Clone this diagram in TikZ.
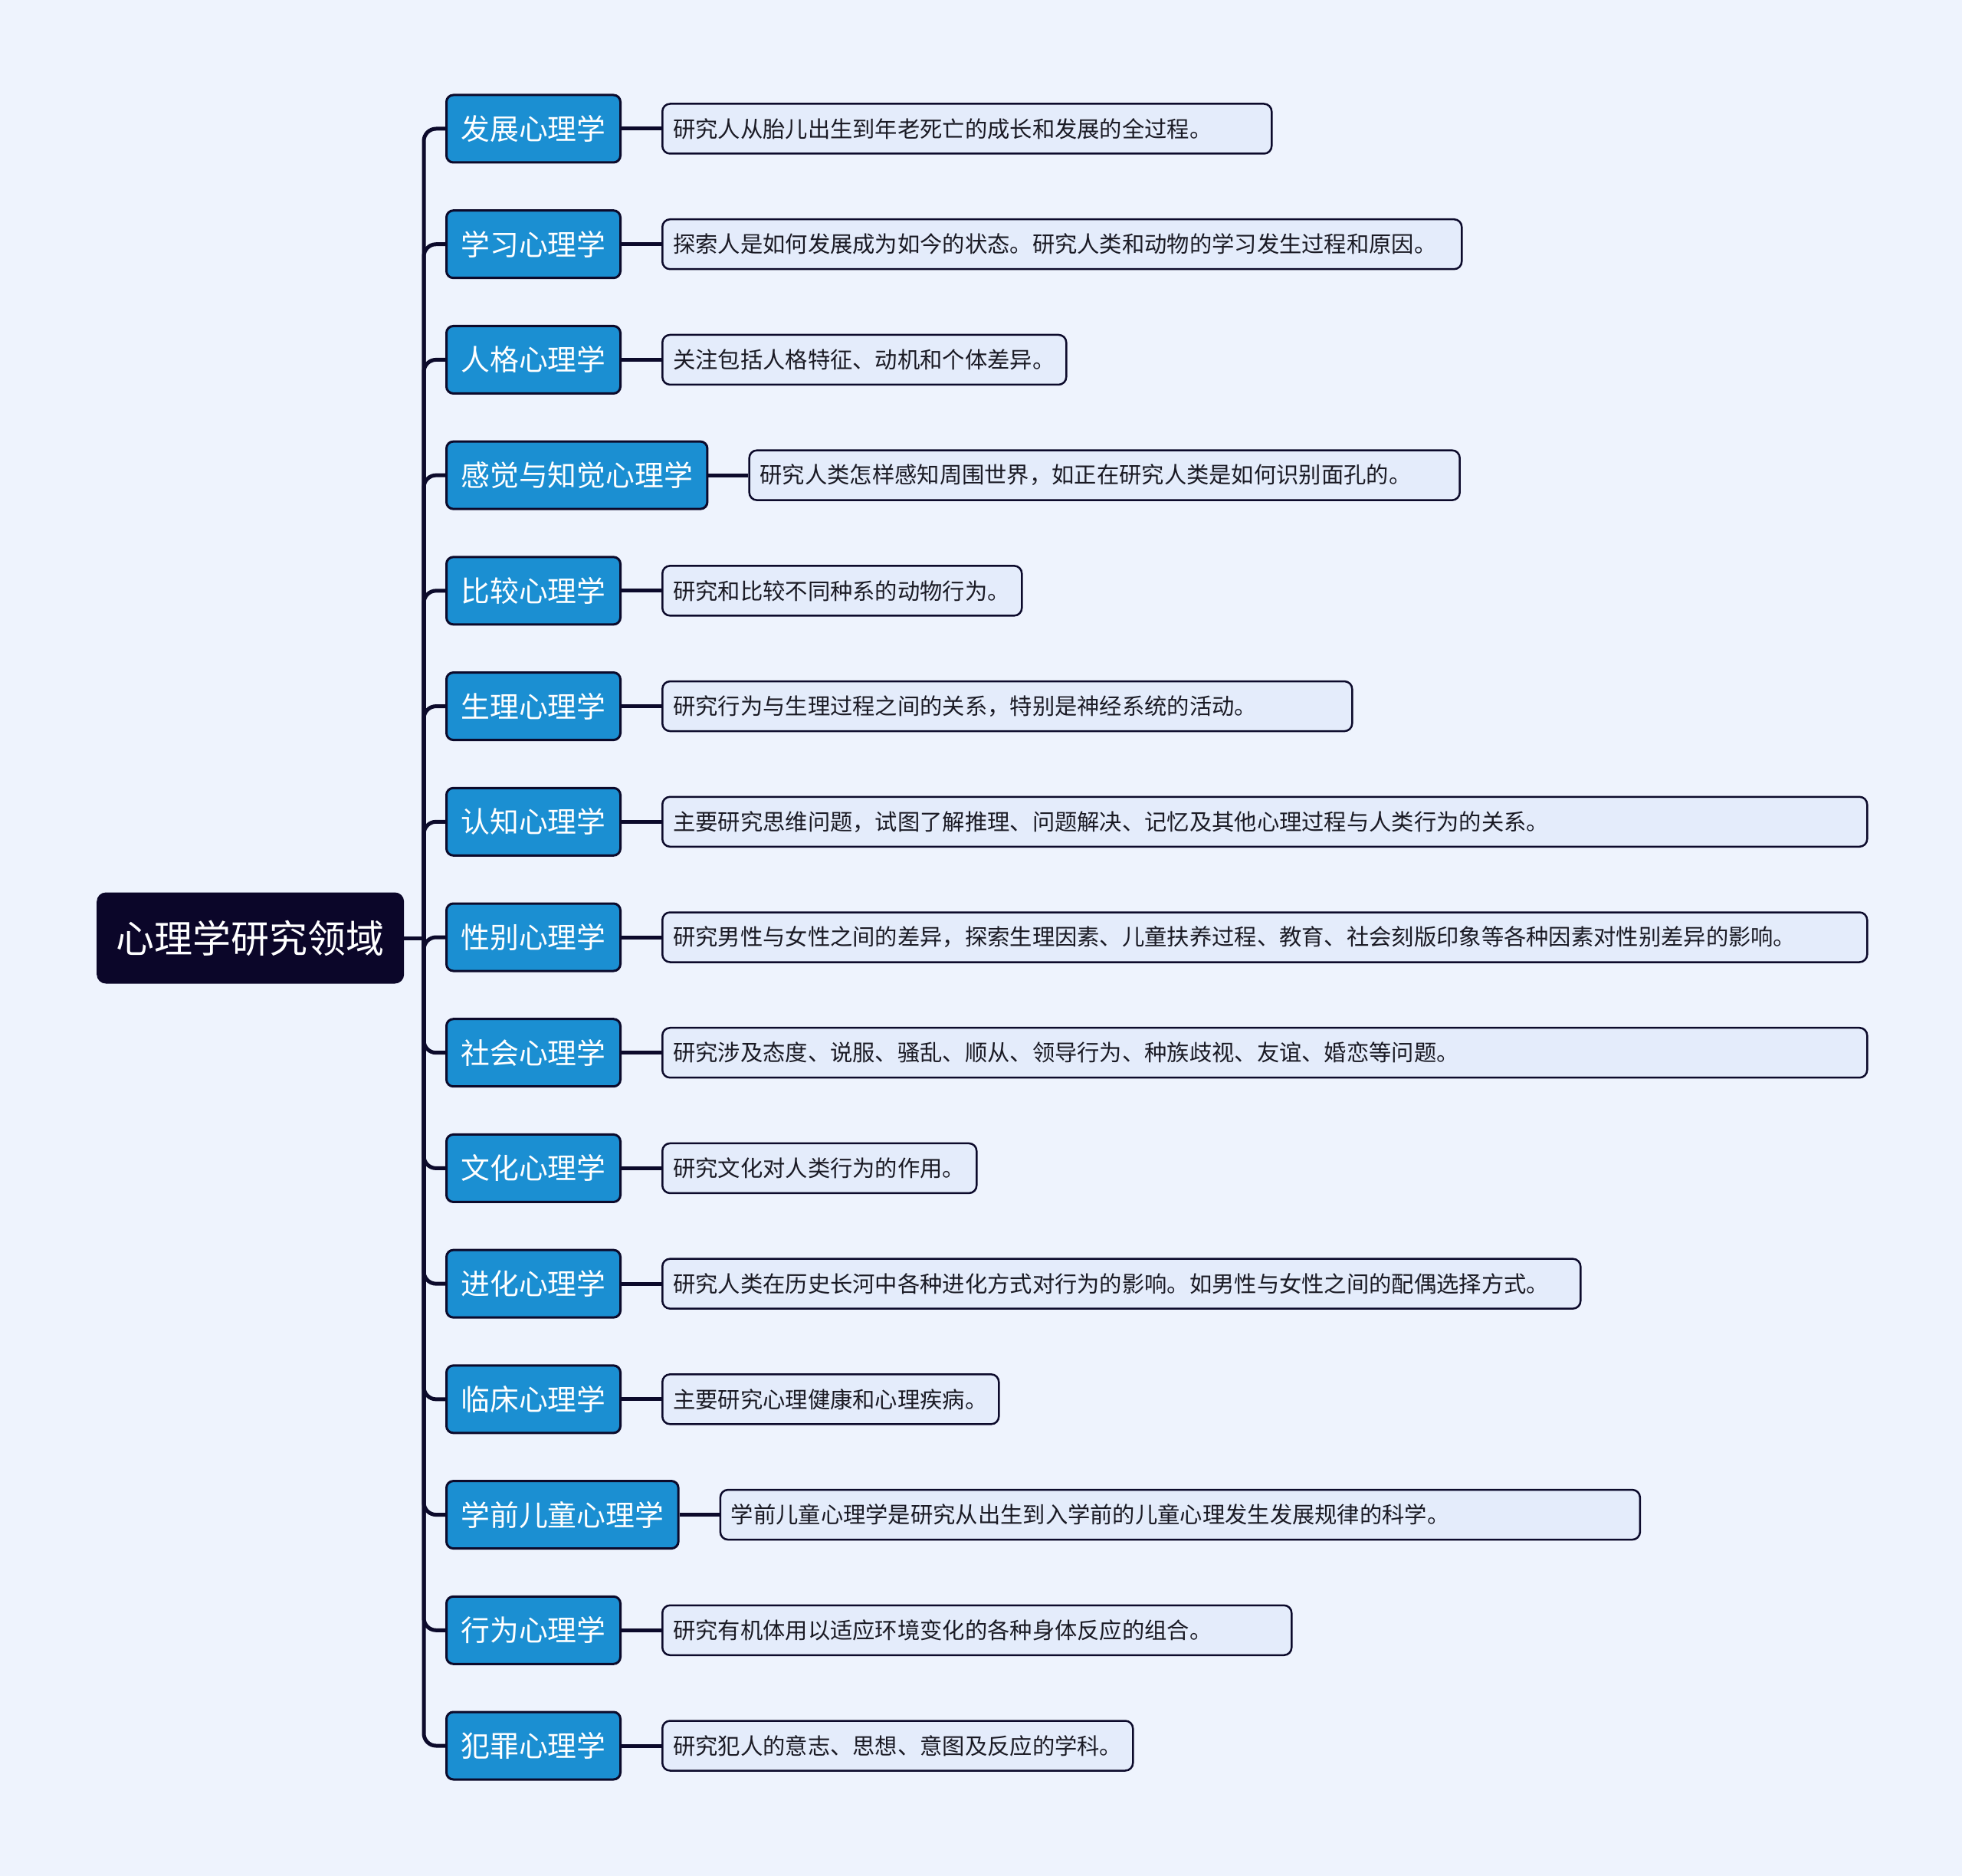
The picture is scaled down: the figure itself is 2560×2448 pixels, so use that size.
\documentclass[tikz,border=0pt]{standalone}
\usepackage{fontspec}
\newfontfamily\cjk{Noto Sans CJK SC}
\definecolor{bgc}{HTML}{EEF3FD}
\definecolor{lineclr}{HTML}{0C0A2B}
\definecolor{brfill}{HTML}{1B8FD2}
\definecolor{dfill}{HTML}{E4ECFB}
\definecolor{rootfill}{HTML}{0B0629}
\definecolor{dtext}{HTML}{1A1A24}
\begin{document}
\begin{tikzpicture}[x=1pt,y=-1pt,
  rootbox/.style={fill=rootfill, rounded corners=12pt, minimum width=401pt, minimum height=119pt,
    inner sep=0pt, anchor=west, text=white, font=\cjk\fontsize{50}{60}\selectfont},
  branch/.style={draw=lineclr, line width=3pt, fill=brfill, rounded corners=9pt, minimum height=88pt,
    inner xsep=19pt, inner ysep=0pt, anchor=west, text=white, font=\cjk\fontsize{37.8}{45}\selectfont},
  desc/.style={draw=lineclr, line width=2.5pt, fill=dfill, rounded corners=10pt, minimum height=65pt,
    inner xsep=14pt, inner ysep=0pt, anchor=west, align=left, text=dtext, font=\cjk\fontsize{29.3}{35}\selectfont},
  link/.style={draw=lineclr, line width=5pt, rounded corners=16pt}
]
\fill[bgc] (0,0) rectangle (2560,2448);
\useasboundingbox (0,0) rectangle (2560,2448);

\node[rootbox] (root) at (126,1224) {心理学研究领域};
\coordinate (hub) at (553,1224);

\foreach \i/\t/\w/\d in {
 1/发展心理学/795/研究人从胎儿出生到年老死亡的成长和发展的全过程。,
 2/学习心理学/1043/探索人是如何发展成为如今的状态。研究人类和动物的学习发生过程和原因。,
 3/人格心理学/527/关注包括人格特征、动机和个体差异。,
 4/感觉与知觉心理学/927/研究人类怎样感知周围世界，如正在研究人类是如何识别面孔的。,
 5/比较心理学/469/研究和比较不同种系的动物行为。,
 6/生理心理学/900/研究行为与生理过程之间的关系，特别是神经系统的活动。,
 7/认知心理学/1572/主要研究思维问题，试图了解推理、问题解决、记忆及其他心理过程与人类行为的关系。,
 8/性别心理学/1572/研究男性与女性之间的差异，探索生理因素、儿童扶养过程、教育、社会刻版印象等各种因素对性别差异的影响。,
 9/社会心理学/1572/研究涉及态度、说服、骚乱、顺从、领导行为、种族歧视、友谊、婚恋等问题。,
 10/文化心理学/410/研究文化对人类行为的作用。,
 11/进化心理学/1198/研究人类在历史长河中各种进化方式对行为的影响。如男性与女性之间的配偶选择方式。,
 12/临床心理学/439/主要研究心理健康和心理疾病。,
 13/学前儿童心理学/1200/学前儿童心理学是研究从出生到入学前的儿童心理发生发展规律的科学。,
 14/行为心理学/821/研究有机体用以适应环境变化的各种身体反应的组合。,
 15/犯罪心理学/614/研究犯人的意志、思想、意图及反应的学科。}{
  \pgfmathsetmacro\yy{168+150.714*(\i-1)}
  \pgfmathsetmacro\tw{\w-28}
  \node[branch] (b\i) at (581,\yy) {\t};
  \node[desc, text width=\tw pt] (d\i) at ([xshift=52pt]b\i.east) {\d};
  \draw[link] (hub) |- (b\i.west);
  \draw[link] (b\i.east) -- (d\i.west);
}
\draw[link] (root.east) -- (hub);
\end{tikzpicture}
\end{document}
